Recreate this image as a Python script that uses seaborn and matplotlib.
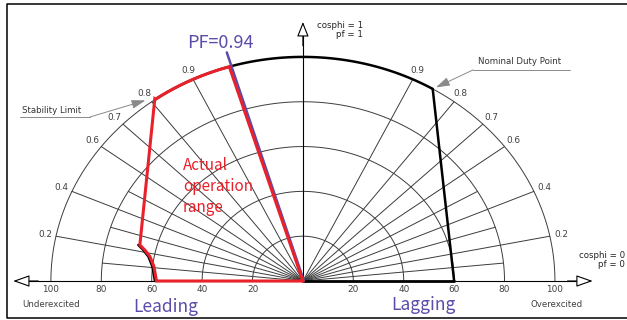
import numpy as np
import pandas as pd
import matplotlib
matplotlib.use("Agg")
import matplotlib.pyplot as plt
import seaborn as sns

sns.set_theme(style="white")
plt.rcParams['font.family'] = ['DejaVu Sans']

# =========================
# Dados lidos do diagrama (Q no eixo x, P no eixo y, em % da potência nominal)
# =========================
radii = [20, 40, 60, 80, 100]
pf_major = [0.2, 0.4, 0.6, 0.7, 0.8, 0.9]
pf_minor = [0.1, 0.3, 0.5]
tick_values = [20, 40, 60, 80, 100]

# faixa real de operação (lado capacitivo / leading)
range_q = [0, -58.1, -59.1, -60.7, -62.7, -64.7, -58.8]
range_p = [0, 0, 6.4, 10.9, 13.8, 16.1, 81.0]
pf_corner = (-29.2, 95.6)
pf_line_top = (-30.6, 102.0)

# limite do lado indutivo (lagging)
nominal_point = (51.5, 85.7)
lagging_base = 60.0

GRID = '#3c3c3c'
LABEL = '#404040'
RED = '#e8212b'
BLUE = '#5a4ca8'
KR = ['Noto Sans CJK KR', 'DejaVu Sans']


def arc(r, a0, a1, n=120):
    t = np.radians(np.linspace(a0, a1, n))
    return r * np.cos(t), r * np.sin(t)


def ang(pt):
    return np.degrees(np.arctan2(pt[1], pt[0]))


fig = plt.figure(figsize=(6.27, 3.2), dpi=100)
ax = fig.add_axes([0, 0, 1, 1])
ax.set_xlim(-120.2, 128.6)
ax.set_ylim(-17.4, 125.4)
ax.axis('off')

# moldura
ax.plot([1.0, 0.0112, 0.0112, 1.0], [0.9866, 0.9866, 0.0078, 0.0078],
        transform=ax.transAxes, color='black', lw=1.1, clip_on=False)

# raios de fator de potência
rows = []
uid = 0
for side in (-1, 1):
    for pf, r_end in [(p, 100) for p in pf_major] + [(p, 80) for p in pf_minor]:
        q_dir = side * np.sqrt(1 - pf ** 2)
        rows.append({'ray': uid, 'q': 0.0, 'p': 0.0})
        rows.append({'ray': uid, 'q': r_end * q_dir, 'p': r_end * pf})
        uid += 1
rays = pd.DataFrame(rows)
sns.lineplot(data=rays, x='q', y='p', units='ray', estimator=None, sort=False,
             color=GRID, lw=0.7, ax=ax, legend=False)

# arcos de potência aparente
a_stab = ang((range_q[-1], range_p[-1]))
a_nom = ang(nominal_point)
for r in radii[:-1]:
    x, y = arc(r, 0, 180)
    ax.plot(x, y, color=GRID, lw=0.7)
x, y = arc(radii[-1], a_stab, 180)
ax.plot(x, y, color=GRID, lw=0.7)
x, y = arc(radii[-1], 0, a_nom)
ax.plot(x, y, color=GRID, lw=0.7)
x, y = arc(radii[-1], a_nom, a_stab)
ax.plot(x, y, color='black', lw=1.8)

# eixos
ax.plot([-113, 113], [0, 0], color='black', lw=0.8)
ax.plot([0, 0], [0, 114], color='black', lw=0.8)
head = dict(arrowstyle='-|>,head_length=0.85,head_width=0.3', fc='white',
            ec='black', lw=0.8, shrinkA=0, shrinkB=0)
ax.annotate('', xy=(-115, 0), xytext=(-105, 0), arrowprops=head)
ax.annotate('', xy=(115, 0), xytext=(105, 0), arrowprops=head)
ax.annotate('', xy=(0, 115.6), xytext=(0, 105),
            arrowprops=dict(head, arrowstyle='-|>,head_length=0.75,head_width=0.3'))

# rótulos do eixo x
for v in tick_values:
    ax.text(-v, -4.0, str(v), ha='center', va='center', fontsize=6.4, color=LABEL)
    ax.text(v, -4.0, str(v), ha='center', va='center', fontsize=6.4, color=LABEL)
ax.text(-111.5, -10.7, 'Underexcited', ha='left', va='center', fontsize=6.2, color=LABEL)
ax.text(111, -10.4, 'Overexcited', ha='right', va='center', fontsize=6.2, color=LABEL)

# rótulos de fator de potência
for pf in pf_major:
    s = np.sqrt(1 - pf ** 2)
    for side in (-1, 1):
        ax.text(side * 104.5 * s, 104.5 * pf, f'{pf:.1f}', ha='center', va='center',
                fontsize=6.4, color=LABEL)

ax.text(23.8, 114.0, 'cosphi = 1', ha='right', va='center', fontsize=6.2, color='#222')
ax.text(23.8, 110.0, 'pf = 1', ha='right', va='center', fontsize=6.2, color='#222')
ax.text(127.8, 11.3, 'cosphi = 0', ha='right', va='center', fontsize=6.2, color='#222')
ax.text(127.8, 7.4, 'pf = 0', ha='right', va='center', fontsize=6.2, color='#222')

# limite indutivo
ax.plot([nominal_point[0], lagging_base], [nominal_point[1], 0], color='black', lw=1.8)
ax.plot([0, lagging_base], [0, 0], color='black', lw=2.0)

# chamadas
lead = dict(arrowstyle='-|>,head_length=0.7,head_width=0.22', color='#8a8a8a',
            lw=0.7, shrinkA=0, shrinkB=0)
ax.plot([-112.3, -84.5], [73.2, 73.2], color='#8a8a8a', lw=0.7)
ax.annotate('', xy=(-62.5, 80.6), xytext=(-84.5, 73.2), arrowprops=lead)
ax.text(-111.5, 75.9, 'Stability Limit', ha='left', va='center', fontsize=6.2, color='#333')
ax.plot([67.5, 106], [94.2, 94.2], color='#8a8a8a', lw=0.7)
ax.annotate('', xy=(52.8, 86.4), xytext=(67.5, 94.2), arrowprops=lead)
ax.text(69.4, 97.8, 'Nominal Duty Point', ha='left', va='center', fontsize=6.2, color='#333')

# curva preta sob o trecho inferior da faixa real
ax.plot(np.array(range_q[1:6]) - 0.6, range_p[1:6], color='black', lw=1.8)

# linha PF
ax.plot([0.4, pf_line_top[0] + 0.4], [0, pf_line_top[1]], color=BLUE, lw=1.8)

# faixa real de operação
xa, ya = arc(radii[-1], a_stab, ang(pf_corner))
poly_q = range_q + list(xa) + [0]
poly_p = range_p + list(ya) + [0]
ax.plot(poly_q, poly_p, color=RED, lw=2.2, solid_joinstyle='miter')

ax.text(-32.9, 106.3, 'PF=0.94', ha='center', va='center', fontsize=13,
        color=BLUE, family=KR)
ax.text(-47.6, 42.0, 'Actual\noperation\nrange', ha='left', va='center',
        fontsize=11, color=RED, family=KR, linespacing=1.3)
ax.text(-54.6, -11.6, 'Leading', ha='center', va='center', fontsize=12.5,
        color=BLUE, family=KR)
ax.text(47.8, -10.9, 'Lagging', ha='center', va='center', fontsize=12.5,
        color=BLUE, family=KR)

fig.savefig('out.png', dpi=100)
